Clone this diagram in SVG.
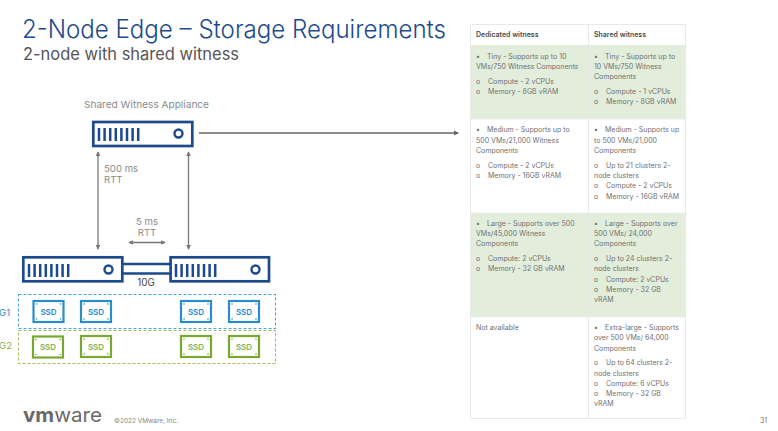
<svg xmlns="http://www.w3.org/2000/svg" width="778" height="431" viewBox="0 0 778 431">
<style>
text{font-family:"Inter","Open Sans","Liberation Sans",sans-serif}
.t{font-size:7px;fill:#707070}
.th{font-size:7px;fill:#4a4a4a;font-weight:600}
.lab{font-size:9.600px;fill:#8a8a8a}
.srv{fill:#fff;stroke:#1d4a8c;stroke-width:2.700}
.bar{stroke:#1d4a8c;stroke-width:2.500}
.led{fill:none;stroke:#1d4a8c;stroke-width:2.400}
.arr{stroke:#777;stroke-width:1.300;fill:none;marker-start:url(#a);marker-end:url(#a)}
.sb{fill:#fff;stroke:#2a8cc9;stroke-width:2.200}
.sg{fill:#fff;stroke:#78a830;stroke-width:2.200}
.tb{font-size:8px;font-weight:600;fill:#2a8cc9;text-anchor:middle}
.tg{font-size:8px;font-weight:600;fill:#8ab04a;text-anchor:middle}
.db{fill:#2a8cc9}
.dg{fill:#78a830}
</style>
<defs>
<marker id="a" viewBox="0 0 6 6" refX="5" refY="3" markerWidth="3.600" markerHeight="3.600" orient="auto-start-reverse"><path d="M0 0L6 3L0 6z" fill="#777"/></marker>
<marker id="b" viewBox="0 0 6 6" refX="5" refY="3" markerWidth="4" markerHeight="4" orient="auto"><path d="M0 0L6 3L0 6z" fill="#666"/></marker>
<g id="bars"><path class="bar" d="M7 8V21M12.600 8V21M18.200 8V21M23.800 8V21M29.400 8V21M35 8V21M40.600 8V21M46.200 8V21"/></g>
<g id="dotsb"><circle class="db" cx="3" cy="3" r=".8"/><circle class="db" cx="27" cy="3" r=".8"/><circle class="db" cx="3" cy="18" r=".8"/><circle class="db" cx="27" cy="18" r=".8"/></g>
<g id="dotsg"><circle class="dg" cx="3" cy="3" r=".8"/><circle class="dg" cx="27" cy="3" r=".8"/><circle class="dg" cx="3" cy="18" r=".8"/><circle class="dg" cx="27" cy="18" r=".8"/></g>
</defs>
<rect width="778" height="431" fill="#fff"/>
<text x="22" y="38" font-size="25" font-weight="300" fill="#1d4a8c" textLength="424" lengthAdjust="spacingAndGlyphs">2-Node Edge – Storage Requirements</text>
<text x="23" y="60" font-size="17" font-weight="400" fill="#555" textLength="216" lengthAdjust="spacingAndGlyphs">2-node with shared witness</text>

<g id="witness">
<text x="84" y="108" class="lab" textLength="125" lengthAdjust="spacingAndGlyphs">Shared Witness Appliance</text>
<rect class="srv" x="93.300" y="122" width="99" height="24"/><use href="#bars" x="92" y="120"/><circle class="led" cx="178.500" cy="133.500" r="4"/>
</g>
<g id="node1">
<rect class="srv" x="23.300" y="257.300" width="99" height="24"/><use href="#bars" x="22" y="256"/><circle class="led" cx="108.500" cy="269.500" r="4"/>
</g>
<g id="node2">
<rect class="srv" x="170.600" y="257.300" width="98.400" height="24"/><use href="#bars" x="169" y="256"/><circle class="led" cx="255.500" cy="269.500" r="4"/>
</g>
<g id="connectors">
<path d="M199 133H458" stroke="#666" stroke-width="1.300" fill="none" marker-end="url(#b)"/>
<path class="arr" d="M98 152V249"/>
<path class="arr" d="M188.500 152V249"/>
<path class="arr" d="M129 242.500H165"/>
<path d="M123 264H170M123 273.500H170" stroke="#1d4a8c" stroke-width="2.600" fill="none"/>
</g>
<g id="labels">
<text x="104" y="172" class="lab">500 ms</text>
<text x="104" y="183" class="lab">RTT</text>
<text x="147" y="225" class="lab" text-anchor="middle">5 ms</text>
<text x="147" y="236" class="lab" text-anchor="middle">RTT</text>
<text x="146" y="286" font-size="9.800" fill="#444" text-anchor="middle">10G</text>
</g>

<g id="dg1">
<rect x="18.500" y="294.500" width="257" height="34" fill="none" stroke="#4aa3dc" stroke-width="1.100" stroke-dasharray="3 2"/>
<text x="-1" y="316" font-size="9.600" fill="#2a8cc9">G1</text>
<rect class="sb" x="33.500" y="301" width="30" height="21"/><use href="#dotsb" x="33.500" y="301"/><text class="tb" x="48.500" y="315">SSD</text>
<rect class="sb" x="81" y="301" width="30" height="21"/><use href="#dotsb" x="81" y="301"/><text class="tb" x="96" y="315">SSD</text>
<rect class="sb" x="181" y="301" width="30" height="21"/><use href="#dotsb" x="181" y="301"/><text class="tb" x="196" y="315">SSD</text>
<rect class="sb" x="229" y="301" width="30" height="21"/><use href="#dotsb" x="229" y="301"/><text class="tb" x="244" y="315">SSD</text>
</g>
<g id="dg2">
<rect x="18.500" y="330.500" width="257" height="33" fill="none" stroke="#9cbf5c" stroke-width="1.100" stroke-dasharray="3 2"/>
<text x="-1" y="349" font-size="9.600" fill="#8ab04a">G2</text>
<rect class="sg" x="33" y="336.500" width="30" height="21"/><use href="#dotsg" x="33" y="336.500"/><text class="tg" x="48" y="350">SSD</text>
<rect class="sg" x="81" y="336" width="30" height="21"/><use href="#dotsg" x="81" y="336"/><text class="tg" x="96" y="349.500">SSD</text>
<rect class="sg" x="181" y="336" width="30" height="21"/><use href="#dotsg" x="181" y="336"/><text class="tg" x="196" y="349.500">SSD</text>
<rect class="sg" x="229" y="336" width="30" height="21"/><use href="#dotsg" x="229" y="336"/><text class="tg" x="244" y="349.500">SSD</text>
</g>

<g id="footer">
<text x="23" y="422" font-size="20" fill="#696969" font-family="Liberation Sans" textLength="79" lengthAdjust="spacingAndGlyphs"><tspan font-weight="700">vm</tspan>ware</text>
<text x="114" y="423" font-size="6.800" fill="#888" textLength="64" lengthAdjust="spacingAndGlyphs">©2022 VMware, Inc.</text>
<text x="760" y="423" font-size="7" fill="#777">31</text>
</g>

<g id="table">
<rect x="470.500" y="45" width="215" height="74" fill="#e2eedb"/>
<rect x="470.500" y="213" width="215" height="104" fill="#e2eedb"/>
<path d="M470.500 24.500H685.500V418.500H470.500ZM588.500 24.500V418.500" fill="none" stroke="#e8e8e8"/>
<path d="M470.500 119H685.500M470.500 213H685.500M470.500 317H685.500" stroke="#eee" fill="none"/>
<text class="th" x="476" y="37">Dedicated witness</text>
<text class="th" x="594" y="37">Shared witness</text>

<text class="t" x="476" y="58.500">•</text><text class="t" x="487" y="58.500">Tiny - Supports up to 10</text>
<text class="t" x="476" y="68.500">VMs/750 Witness Components</text>
<text class="t" x="476" y="83.500">o</text><text class="t" x="488" y="83.500">Compute - 2 vCPUs</text>
<text class="t" x="476" y="93.500">o</text><text class="t" x="488" y="93.500">Memory - 8GB vRAM</text>

<text class="t" x="594" y="58.500">•</text><text class="t" x="605" y="58.500">Tiny - Supports up to</text>
<text class="t" x="594" y="68.500">10 VMs/750 Witness</text>
<text class="t" x="594" y="79">Components</text>
<text class="t" x="594" y="93.500">o</text><text class="t" x="606" y="93.500">Compute - 1 vCPUs</text>
<text class="t" x="594" y="104">o</text><text class="t" x="606" y="104">Memory - 8GB vRAM</text>

<text class="t" x="476" y="132">•</text><text class="t" x="487" y="132">Medium - Supports up to</text>
<text class="t" x="476" y="142.500">500 VMs/21,000 Witness</text>
<text class="t" x="476" y="152.500">Components</text>
<text class="t" x="476" y="167.500">o</text><text class="t" x="488" y="167.500">Compute - 2 vCPUs</text>
<text class="t" x="476" y="177.500">o</text><text class="t" x="488" y="177.500">Memory - 16GB vRAM</text>

<text class="t" x="594" y="132">•</text><text class="t" x="605" y="132">Medium - Supports up</text>
<text class="t" x="594" y="142.500">to 500 VMs/21,000</text>
<text class="t" x="594" y="152.500">Components</text>
<text class="t" x="594" y="167.500">o</text><text class="t" x="606" y="167.500">Up to 21 clusters 2-</text>
<text class="t" x="594" y="177.500">node clusters</text>
<text class="t" x="594" y="188">o</text><text class="t" x="606" y="188">Compute - 2 vCPUs</text>
<text class="t" x="594" y="198.500">o</text><text class="t" x="606" y="198.500">Memory - 16GB vRAM</text>

<text class="t" x="476" y="225.500">•</text><text class="t" x="487" y="225.500">Large - Supports over 500</text>
<text class="t" x="476" y="236">VMs/45,000 Witness</text>
<text class="t" x="476" y="246">Components</text>
<text class="t" x="476" y="261">o</text><text class="t" x="488" y="261">Compute: 2 vCPUs</text>
<text class="t" x="476" y="271">o</text><text class="t" x="488" y="271">Memory - 32 GB vRAM</text>

<text class="t" x="594" y="225.500">•</text><text class="t" x="605" y="225.500">Large - Supports over</text>
<text class="t" x="594" y="236">500 VMs/ 24,000</text>
<text class="t" x="594" y="246">Components</text>
<text class="t" x="594" y="261">o</text><text class="t" x="606" y="261">Up to 24 clusters 2-</text>
<text class="t" x="594" y="271">node clusters</text>
<text class="t" x="594" y="281.500">o</text><text class="t" x="606" y="281.500">Compute: 2 vCPUs</text>
<text class="t" x="594" y="291.500">o</text><text class="t" x="606" y="291.500">Memory - 32 GB</text>
<text class="t" x="594" y="302">vRAM</text>

<text class="t" x="476" y="329.500">Not available</text>

<text class="t" x="594" y="330">•</text><text class="t" x="605" y="330">Extra-large - Supports</text>
<text class="t" x="594" y="340">over 500 VMs/ 64,000</text>
<text class="t" x="594" y="350.500">Components</text>
<text class="t" x="594" y="365">o</text><text class="t" x="606" y="365">Up to 64 clusters 2-</text>
<text class="t" x="594" y="375.500">node clusters</text>
<text class="t" x="594" y="385.500">o</text><text class="t" x="606" y="385.500">Compute: 6 vCPUs</text>
<text class="t" x="594" y="396">o</text><text class="t" x="606" y="396">Memory - 32 GB</text>
<text class="t" x="594" y="406">vRAM</text>
</g>
</svg>
